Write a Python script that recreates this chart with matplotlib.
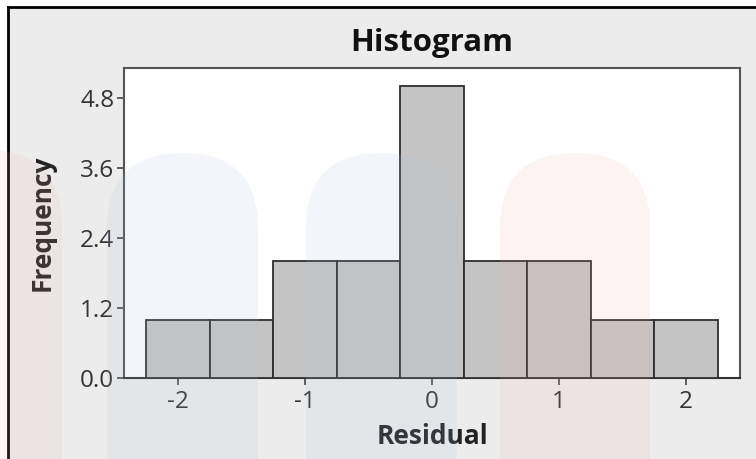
import matplotlib
matplotlib.use("Agg")
import matplotlib.pyplot as plt
from matplotlib.patches import FancyBboxPatch, Rectangle
from matplotlib.lines import Line2D
import numpy as np

# Data
bin_centers = [-2.0, -1.5, -1.0, -0.5, 0.0, 0.5, 1.0, 1.5, 2.0]
frequencies = [1, 1, 2, 2, 5, 2, 2, 1, 1]
bin_width = 0.5
y_ticks = [0.0, 1.2, 2.4, 3.6, 4.8]
y_tick_labels = ["0.0", "1.2", "2.4", "3.6", "4.8"]
x_ticks = [-2, -1, 0, 1, 2]
x_tick_labels = ["-2", "-1", "0", "1", "2"]

plt.rcParams['font.family'] = ['Open Sans', 'DejaVu Sans']

fig = plt.figure(figsize=(7.56, 4.59), dpi=100)
fig.patch.set_facecolor('#ececec')

W, H = 756, 459
ax = fig.add_axes([124 / W, 1 - 378 / H, (740 - 124) / W, (378 - 68) / H])
ax.set_facecolor('white')

ax.bar(bin_centers, frequencies, width=bin_width, color='#c4c4c4',
       edgecolor='#2e2e2e', linewidth=1.3, zorder=3)

ax.set_xlim(-2.425, 2.425)
ax.set_ylim(0, 5.31)
ax.set_yticks(y_ticks)
ax.set_yticklabels(y_tick_labels)
ax.set_xticks(x_ticks)
ax.set_xticklabels(x_tick_labels)
ax.tick_params(axis='both', direction='out', length=5, width=1.2,
               color='#444444', labelsize=17.5, labelcolor='#333333', pad=2)
ax.tick_params(axis='x', pad=4)
for s in ax.spines.values():
    s.set_color('#555555')
    s.set_linewidth(1.5)
ax.spines['bottom'].set_color('#333333')

ax.set_title('Histogram', fontsize=22.5, fontweight='bold', color='#111111', pad=12)
ax.set_xlabel('Residual', fontsize=19, fontweight='bold', color='#222222', va='center')
ax.set_ylabel('Frequency', fontsize=19, fontweight='bold', color='#222222', va='center')
ax.xaxis.set_label_coords(0.5, (378 - 436) / 310)
ax.yaxis.set_label_coords((42 - 124) / 616, 0.5)

# Watermark-like pill shapes overlay (figure pixel coordinates)
def pill(x0, x1, top, color, alpha):
    r = (x1 - x0) / 2
    p = FancyBboxPatch(((x0 + r) / W, 0 - 0.2), 0, (H - top - r) / H + 0.2,
                       boxstyle=f"round,pad={r / W}", transform=fig.transFigure,
                       facecolor=color, edgecolor='none', alpha=alpha, zorder=10,
                       mutation_aspect=W / H)
    fig.add_artist(p)

pill(107, 258, 153, '#a8c4dc', 0.14)
pill(306, 457, 153, '#a8c4dc', 0.14)
pill(500, 650, 153, '#f0a8a8', 0.13)
pill(-90, 62, 150, '#f0a8a8', 0.13)

# Outer black border lines (left and top)
fig.add_artist(Line2D([8 / W, 8 / W], [0, 1 - 7 / H], transform=fig.transFigure,
                      color='black', linewidth=2))
fig.add_artist(Line2D([8 / W, 1], [1 - 7 / H, 1 - 7 / H], transform=fig.transFigure,
                      color='black', linewidth=2))
fig.add_artist(Rectangle((0, 0), 7 / W, 1, transform=fig.transFigure,
                         facecolor='white', edgecolor='none', zorder=-1))
fig.add_artist(Rectangle((0, 1 - 6 / H), 1, 6 / H, transform=fig.transFigure,
                         facecolor='white', edgecolor='none', zorder=-1))

fig.savefig('out.png', dpi=100, facecolor=fig.get_facecolor())
